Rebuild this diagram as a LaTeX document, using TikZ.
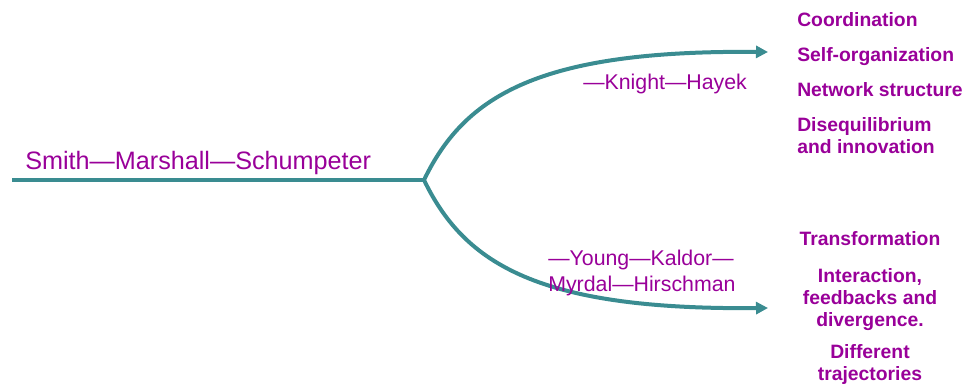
\documentclass[tikz,border=0pt]{standalone}
\usepackage{fontspec}
\setmainfont{Liberation Sans}
\usetikzlibrary{arrows.meta}
\definecolor{teal1}{RGB}{58,140,145}
\definecolor{purp}{RGB}{153,0,153}
\tikzset{
  branch/.style={draw=teal1, line width=3pt},
  arr/.style={branch, -{Triangle[length=9pt,width=9pt]}},
  person/.style={text=purp, inner sep=0pt, font=\fontsize{16}{19}\selectfont},
  big/.style={person, font=\fontsize{18.9}{22}\selectfont},
  topic/.style={text=purp, inner sep=0pt, font=\fontsize{14.5}{16.5}\selectfont\bfseries},
}
\begin{document}
\begin{tikzpicture}[x=0.75pt,y=-0.75pt]
\useasboundingbox (0,0) rectangle (965,389);
\coordinate (start) at (12,180);
\coordinate (fork) at (424,180);
\coordinate (up) at (768,52);
\coordinate (down) at (768,308);
\draw[branch] (start) -- (fork);
\draw[arr] (fork) .. controls (465,95) and (540,50) .. (up);
\draw[arr] (fork) .. controls (465,265) and (540,310) .. (down);

\node[big, anchor=base west] (smith) at (25,169) {Smith—Marshall—Schumpeter};
\node[person, anchor=base west] (knight) at (583,89) {—Knight—Hayek};
\node[person, anchor=north west, align=left] (young) at (548,250) {—Young—Kaldor—\\Myrdal—Hirschman};

\node[topic, anchor=north west] (coord) at (797,12) {Coordination};
\node[topic, anchor=north west] (self) at (797,47) {Self-organization};
\node[topic, anchor=north west] (net) at (797,82) {Network structure};
\node[topic, anchor=north west, align=left] (diseq) at (797,117) {Disequilibrium\\and innovation};

\node[topic, anchor=north, align=center] (trans) at (870,231) {Transformation};
\node[topic, anchor=north, align=center] (inter) at (870,268) {Interaction,\\feedbacks and\\divergence.};
\node[topic, anchor=north, align=center] (traj) at (870,344) {Different\\trajectories};
\end{tikzpicture}
\end{document}
